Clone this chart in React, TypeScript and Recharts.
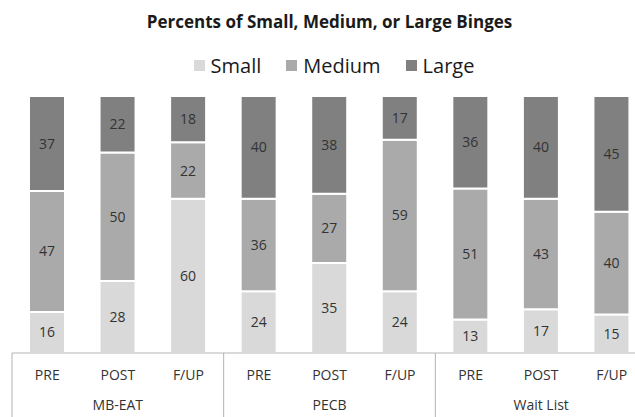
import React from 'react';
import { BarChart, Bar, XAxis, YAxis, Legend, LabelList } from 'recharts';

const times = ['PRE', 'POST', 'F/UP', 'PRE', 'POST', 'F/UP', 'PRE', 'POST', 'F/UP'];
const groups = ['MB-EAT', 'MB-EAT', 'MB-EAT', 'PECB', 'PECB', 'PECB', 'Wait List', 'Wait List', 'Wait List'];
const small = [16, 28, 60, 24, 35, 24, 13, 17, 15];
const medium = [47, 50, 22, 36, 27, 59, 51, 43, 40];
const large = [37, 22, 18, 40, 38, 17, 36, 40, 45];

const data = times.map((t, i) => ({
  key: `${groups[i]}-${t}`,
  time: t,
  group: groups[i],
  Small: small[i],
  Medium: medium[i],
  Large: large[i],
}));

const FONT = '"Open Sans", sans-serif';
const AXIS = '#b4b4b4';
const TEXT = '#333';

const CategoryTick = (props: any) => {
  const { x, y, payload, index } = props;
  const half = payload && payload.offset ? payload.offset : 35.3;
  const d = data[index];
  return (
    <g>
      <text x={x} y={y + 27} textAnchor="middle" fontSize={14} fontFamily={FONT} fill={TEXT}>
        {d.time}
      </text>
      {index % 3 === 1 && (
        <text x={x} y={y + 57} textAnchor="middle" fontSize={14} fontFamily={FONT} fill={TEXT}>
          {d.group}
        </text>
      )}
      {index % 3 === 0 && <line x1={x - half} y1={y} x2={x - half} y2={y + 64} stroke={AXIS} />}
    </g>
  );
};

const LegendBlock = (props: any) => {
  const items = (props.payload || []).slice().reverse();
  return (
    <div style={{ height: 96, fontFamily: FONT, color: '#1a1a1a' }}>
      <div style={{ textAlign: 'center', fontWeight: 700, fontSize: 17, paddingTop: 9, height: 26, lineHeight: '26px' }}>
        Percents of Small, Medium, or Large Binges
      </div>
      <div
        style={{
          display: 'flex',
          justifyContent: 'center',
          alignItems: 'center',
          marginTop: 17,
          paddingLeft: 9,
          fontSize: 20,
          lineHeight: '27px',
        }}
      >
        {items.map((it: any, i: number) => (
          <div key={it.value} style={{ display: 'flex', alignItems: 'center', marginLeft: i ? 25 : 0 }}>
            <span style={{ width: 11, height: 11, background: it.color, display: 'inline-block', marginRight: 6 }} />
            <span>{it.value}</span>
          </div>
        ))}
      </div>
    </div>
  );
};

export default function App() {
  return (
    <div style={{ position: 'absolute', left: 0, top: 0, width: 635, height: 417, overflow: 'hidden', background: '#fff' }}>
      <BarChart width={660} height={417} data={data} margin={{ top: 0, right: 13, bottom: 0, left: 12 }} barSize={36}>
        <YAxis hide domain={[0, 100]} />
        <XAxis
          dataKey="key"
          height={64}
          interval={0}
          tickLine={false}
          tickSize={0}
          tickMargin={0}
          axisLine={{ stroke: AXIS }}
          tick={<CategoryTick />}
        />
        <Legend verticalAlign="top" content={<LegendBlock />} />
        <Bar dataKey="Small" stackId="a" fill="#d9d9d9" stroke="#fff" strokeWidth={2} isAnimationActive={false}>
          <LabelList dataKey="Small" position="center" fill={TEXT} fontSize={14} fontFamily={FONT} />
        </Bar>
        <Bar dataKey="Medium" stackId="a" fill="#aaaaaa" stroke="#fff" strokeWidth={2} isAnimationActive={false}>
          <LabelList dataKey="Medium" position="center" fill={TEXT} fontSize={14} fontFamily={FONT} />
        </Bar>
        <Bar dataKey="Large" stackId="a" fill="#808080" stroke="#fff" strokeWidth={2} isAnimationActive={false}>
          <LabelList dataKey="Large" position="center" fill={TEXT} fontSize={14} fontFamily={FONT} />
        </Bar>
      </BarChart>
    </div>
  );
}
